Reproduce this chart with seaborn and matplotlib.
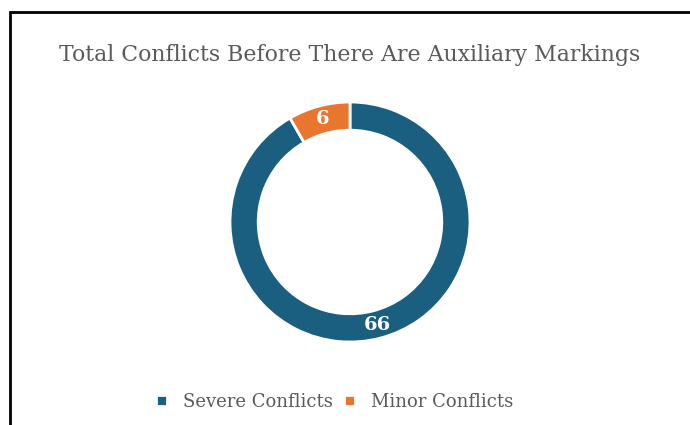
import matplotlib
matplotlib.use("Agg")
import matplotlib.pyplot as plt
import seaborn as sns
from matplotlib.patches import Rectangle

categories = ["Severe Conflicts", "Minor Conflicts"]
counts = [66, 6]
colors = ["#1a5e80", "#e8762f"]

sns.set_theme(style="white")
plt.rcParams["font.family"] = ["DejaVu Serif"]

fig = plt.figure(figsize=(6.9, 4.25), dpi=100)

# outer frame of the chart box
fig.patches.append(Rectangle((10 / 690, -0.05), 0.99 - 10 / 690 + 0.02, 1.05 - 12 / 425,
                             transform=fig.transFigure, fill=False,
                             edgecolor="black", linewidth=2))

ax = fig.add_axes([230 / 690, 83 / 425, 240 / 690, 240 / 425])
wedges, texts = ax.pie(counts, colors=colors, labels=[str(c) for c in counts],
                       startangle=90, counterclock=False, radius=1.0,
                       labeldistance=0.885,
                       wedgeprops=dict(width=0.235, edgecolor="white", linewidth=2),
                       textprops=dict(color="white", fontsize=14, fontweight="bold",
                                      ha="center", va="center"))
ax.set_xlim(-1, 1)
ax.set_ylim(-1, 1)
ax.set_aspect("equal")
ax.axis("off")

fig.text(0.507, 1 - 55 / 425, "Total Conflicts Before There Are Auxiliary Markings",
         ha="center", va="center", fontsize=15.8, color="#5a5a5a")

fig.legend(wedges, categories, loc="center", bbox_to_anchor=(0.485, 1 - 402 / 425),
           ncol=2, frameon=False, fontsize=13, handlelength=0.6, handleheight=0.6,
           handletextpad=0.9, columnspacing=0.6, labelcolor="#5a5a5a")

fig.savefig("out.png", dpi=100)
